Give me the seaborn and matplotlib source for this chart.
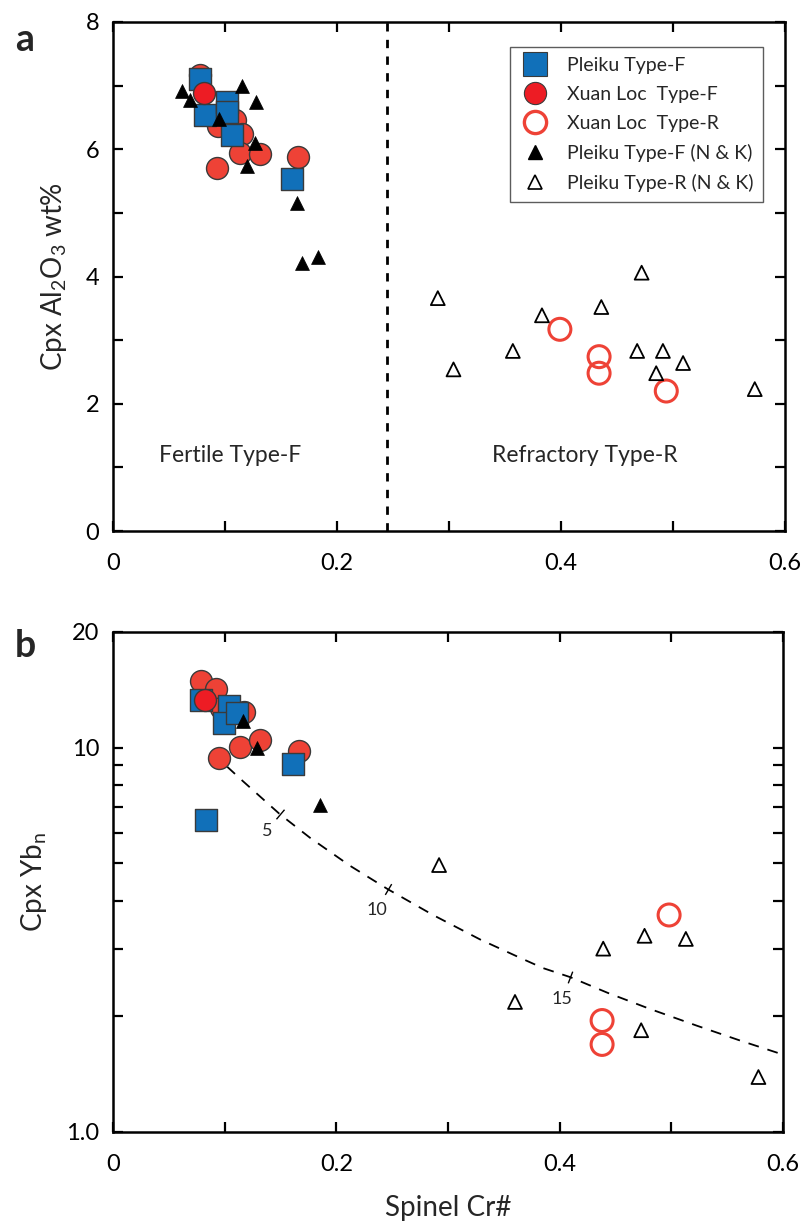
import numpy as np
import pandas as pd
import matplotlib
matplotlib.use("Agg")
import matplotlib.pyplot as plt
import seaborn as sns
from matplotlib.ticker import MultipleLocator, FixedLocator, FuncFormatter, NullFormatter
from matplotlib.lines import Line2D

# ---------------- Panel a: spinel Cr# vs Cpx Al2O3 (wt%) ----------------
a_pk_f_cr = [0.078, 0.082, 0.102, 0.102, 0.106, 0.160]
a_pk_f_al = [7.10, 6.54, 6.75, 6.59, 6.23, 5.53]

a_xl_f_cr = [0.078, 0.109, 0.094, 0.115, 0.113, 0.131, 0.093, 0.165]
a_xl_f_al = [7.17, 6.46, 6.36, 6.24, 5.94, 5.93, 5.70, 5.88]
a_xl_f_top_cr = [0.081]
a_xl_f_top_al = [6.88]

a_xl_r_cr = [0.399, 0.434, 0.434, 0.494]
a_xl_r_al = [3.17, 2.74, 2.48, 2.20]

a_nk_f_cr = [0.062, 0.069, 0.115, 0.128, 0.095, 0.127, 0.120, 0.164, 0.169, 0.183]
a_nk_f_al = [6.92, 6.78, 6.99, 6.75, 6.47, 6.10, 5.73, 5.15, 4.21, 4.31]

a_nk_r_cr = [0.290, 0.304, 0.357, 0.383, 0.436, 0.472, 0.468, 0.491, 0.485, 0.509, 0.573]
a_nk_r_al = [3.66, 2.54, 2.83, 3.39, 3.52, 4.06, 2.83, 2.83, 2.48, 2.64, 2.23]

fertile_boundary = 0.245

# ---------------- Panel b: spinel Cr# vs Cpx Yb_n ----------------
b_pk_f_cr = [0.0785, 0.104, 0.0994, 0.111, 0.161, 0.083]
b_pk_f_yb = [13.3, 12.8, 11.6, 12.3, 9.05, 6.5]

b_xl_f_cr = [0.0785, 0.092, 0.097, 0.117, 0.114, 0.132, 0.095, 0.167]
b_xl_f_yb = [14.9, 14.2, 12.7, 12.4, 10.06, 10.5, 9.38, 9.82]
b_xl_f_top_cr = [0.082]
b_xl_f_top_yb = [13.3]

b_xl_r_cr = [0.498, 0.438, 0.438]
b_xl_r_yb = [3.67, 1.95, 1.69]

b_nk_f_cr = [0.116, 0.129, 0.185]
b_nk_f_yb = [11.7, 9.96, 7.1]

b_nk_r_cr = [0.292, 0.439, 0.476, 0.513, 0.360, 0.473, 0.578]
b_nk_r_yb = [4.95, 3.00, 3.24, 3.18, 2.18, 1.84, 1.39]

# fractional melting trend
melt_cr = [0.1021, 0.1164, 0.1495, 0.1764, 0.2122, 0.2463, 0.2866, 0.3287,
           0.3645, 0.3851, 0.4093, 0.4433, 0.4809, 0.5230, 0.5615, 0.600]
melt_yb = [8.93, 8.18, 6.71, 5.83, 4.93, 4.28, 3.67, 3.17,
           2.84, 2.67, 2.53, 2.30, 2.09, 1.89, 1.73, 1.59]
melt_pct = ["5", "10", "15"]
melt_pct_cr = [0.1495, 0.2463, 0.4093]
melt_pct_yb = [6.71, 4.28, 2.53]

# ---------------- styling ----------------
sns.set_style("ticks")
FONT = ["Lato", "DejaVu Sans"]
plt.rcParams["font.family"] = FONT
plt.rcParams["mathtext.default"] = "regular"

BLUE = "#1170B9"
RED = "#EE4236"
RED_TOP = "#ED1C24"
EDGE = "#3a3a3a"

SQ = 250
CI = 250
TRI = 100

fig = plt.figure(figsize=(8.06, 12.28), dpi=100)
ax_a = fig.add_axes([113 / 806, 1 - 531 / 1228, 672 / 806, 509 / 1228])
ax_b = fig.add_axes([113 / 806, 1 - 1132 / 1228, 670 / 806, 500 / 1228])


def draw_groups(ax, pk_f, xl_f, xl_f_top, xl_r, nk_f, nk_r):
    sns.scatterplot(x=xl_f[0], y=xl_f[1], ax=ax, marker="o", s=CI, color=RED,
                    edgecolor=EDGE, linewidth=1.0, zorder=3)
    sns.scatterplot(x=pk_f[0], y=pk_f[1], ax=ax, marker="s", s=SQ, color=BLUE,
                    edgecolor=EDGE, linewidth=1.0, zorder=4)
    sns.scatterplot(x=xl_f_top[0], y=xl_f_top[1], ax=ax, marker="o", s=CI, color=RED_TOP,
                    edgecolor=EDGE, linewidth=1.0, zorder=5)
    sns.scatterplot(x=xl_r[0], y=xl_r[1], ax=ax, marker="o", s=CI, facecolor="none",
                    edgecolor=RED, linewidth=2.2, zorder=3)
    sns.scatterplot(x=nk_f[0], y=nk_f[1], ax=ax, marker="^", s=TRI, color="black",
                    edgecolor="black", linewidth=0.5, zorder=6)
    sns.scatterplot(x=nk_r[0], y=nk_r[1], ax=ax, marker="^", s=TRI, facecolor="none",
                    edgecolor="black", linewidth=1.3, zorder=6)


def frame(ax):
    for sp in ax.spines.values():
        sp.set_visible(True)
        sp.set_linewidth(1.8)
        sp.set_color("black")
    ax.tick_params(which="both", direction="in", top=True, right=True,
                   length=7, width=1.6, labelsize=17, colors="black")
    ax.tick_params(axis="x", which="both", pad=16)
    ax.tick_params(axis="y", which="both", pad=10)
    ax.set_xlim(0, 0.6)
    ax.xaxis.set_major_locator(MultipleLocator(0.1))
    ax.xaxis.set_major_formatter(FuncFormatter(
        lambda v, p: ("0" if abs(v) < 1e-9 else f"{v:.1f}") if round(v * 10) % 2 == 0 else ""))


# panel a
draw_groups(ax_a, (a_pk_f_cr, a_pk_f_al), (a_xl_f_cr, a_xl_f_al),
            (a_xl_f_top_cr, a_xl_f_top_al), (a_xl_r_cr, a_xl_r_al),
            (a_nk_f_cr, a_nk_f_al), (a_nk_r_cr, a_nk_r_al))
ax_a.axvline(fertile_boundary, color="black", lw=2.0, ls=(0, (3, 3)), zorder=2)
frame(ax_a)
ax_a.set_ylim(0, 8)
ax_a.yaxis.set_major_locator(MultipleLocator(1))
ax_a.yaxis.set_major_formatter(FuncFormatter(lambda v, p: f"{v:.0f}" if round(v) % 2 == 0 else ""))
ax_a.set_xlabel("")
ax_a.set_ylabel("Cpx Al$_2$O$_3$ wt%", fontsize=20, labelpad=12)
ax_a.text(0.1045, 1.19, "Fertile Type-F", ha="center", va="center", fontsize=16.5)
ax_a.text(0.421, 1.19, "Refractory Type-R", ha="center", va="center", fontsize=16.5)

handles = [
    Line2D([], [], ls="none", marker="s", ms=17, mfc=BLUE, mec=EDGE, mew=0.8),
    Line2D([], [], ls="none", marker="o", ms=16, mfc=RED_TOP, mec=EDGE, mew=0.8),
    Line2D([], [], ls="none", marker="o", ms=16, mfc="none", mec=RED, mew=2.4),
    Line2D([], [], ls="none", marker="^", ms=10, mfc="black", mec="black"),
    Line2D([], [], ls="none", marker="^", ms=10, mfc="none", mec="black", mew=1.2),
]
labels = ["Pleiku Type-F", "Xuan Loc  Type-F", "Xuan Loc  Type-R",
          "Pleiku Type-F (N & K)", "Pleiku Type-R (N & K)"]
leg = ax_a.legend(handles, labels, loc="upper right", bbox_to_anchor=(0.967, 0.951),
                  fontsize=14, frameon=True, fancybox=False, edgecolor="#333333",
                  borderpad=0.5, labelspacing=0.62, handletextpad=0.9, handlelength=1.5,
                  borderaxespad=0.0)
leg.get_frame().set_linewidth(1.0)

# panel b
draw_groups(ax_b, (b_pk_f_cr, b_pk_f_yb), (b_xl_f_cr, b_xl_f_yb),
            (b_xl_f_top_cr, b_xl_f_top_yb), (b_xl_r_cr, b_xl_r_yb),
            (b_nk_f_cr, b_nk_f_yb), (b_nk_r_cr, b_nk_r_yb))
melt = pd.DataFrame({"cr": melt_cr, "yb": melt_yb})
sns.lineplot(data=melt, x="cr", y="yb", ax=ax_b, sort=False, color="black",
             lw=1.3, ls=(0, (6, 5)), zorder=2)
ax_b.set_yscale("log")
frame(ax_b)
ax_b.set_ylim(1, 20)
ax_b.yaxis.set_major_locator(FixedLocator([1, 10, 20]))
ax_b.yaxis.set_major_formatter(FuncFormatter(lambda v, p: {1: "1.0", 10: "10", 20: "20"}.get(int(round(v)), "")))
ax_b.yaxis.set_minor_locator(FixedLocator([2, 3, 4, 5, 6, 7, 8, 9]))
ax_b.yaxis.set_minor_formatter(NullFormatter())
ax_b.tick_params(axis="y", which="minor", direction="in", length=7, width=1.6, right=True)
ax_b.set_xlabel("Spinel Cr#", fontsize=20, labelpad=14)
ax_b.set_ylabel("Cpx Yb$_n$", fontsize=20, labelpad=12)

# melting-degree ticks across the trend line
fig.canvas.draw()
pts = ax_b.transData.transform(np.column_stack([melt_cr, melt_yb]))
label_offsets = [(-9, -12), (-8, -15), (-6, -16)]
for lab, cx, cy, off in zip(melt_pct, melt_pct_cr, melt_pct_yb, label_offsets):
    p = ax_b.transData.transform((cx, cy))
    i = int(np.argmin(np.hypot(pts[:, 0] - p[0], pts[:, 1] - p[1])))
    j0, j1 = max(i - 1, 0), min(i + 1, len(pts) - 1)
    d = pts[j1] - pts[j0]
    ang = np.degrees(np.arctan2(d[1], d[0]))
    ax_b.plot([cx], [cy], marker=(2, 0, ang), ms=9, mew=1.0, color="black", zorder=2)
    ax_b.annotate(lab, (cx, cy), xytext=off, textcoords="offset points",
                  ha="center", va="center", fontsize=13)

fig.text(25 / 806, 1 - 40 / 1228, "a", fontsize=27, fontweight="bold", va="center", ha="center")
fig.text(25 / 806, 1 - 646 / 1228, "b", fontsize=27, fontweight="bold", va="center", ha="center")

fig.savefig("out.png", dpi=100, facecolor="white")
